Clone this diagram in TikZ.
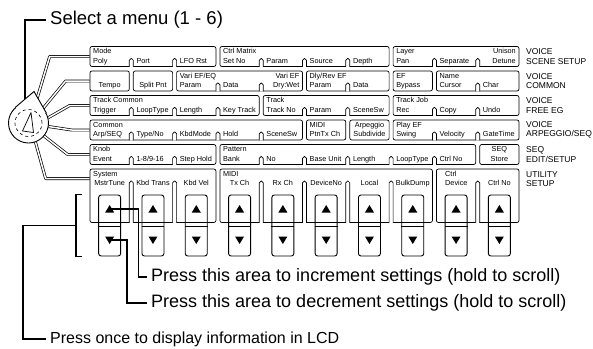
\documentclass[tikz,border=0pt]{standalone}
\usepackage{fontspec}
\setmainfont{Liberation Sans}
\usetikzlibrary{backgrounds}

\begin{document}
\begin{tikzpicture}[x=1pt, y=-1pt,
    box/.style={draw, rounded corners=2pt, line width=0.7pt, inner sep=0pt, minimum height=20pt},
    tallbox/.style={box, minimum height=53.5pt},
    notch/.style={draw, fill=white, rounded corners=1.8pt, line width=0.7pt},
    lbl/.style={font=\fontsize{7.3}{8}\selectfont, inner sep=0pt, anchor=west, text height=5pt, text depth=1.5pt},
    rlbl/.style={lbl, anchor=east},
    clbl/.style={lbl, anchor=center},
    side/.style={font=\fontsize{8.5}{9.5}\selectfont, align=left, anchor=west, inner sep=0pt},
    note/.style={font=\fontsize{18}{22}\selectfont, anchor=west, inner sep=4pt},
    link/.style={double, double distance=1.5pt, line width=0.7pt, line join=round},
    callout/.style={line width=1.5pt},
    key/.style={draw, fill=white, rounded corners=2.5pt, line width=0.9pt,
                minimum width=22pt, minimum height=61pt, inner sep=0pt}
  ]
  \useasboundingbox (0,0) rectangle (593,348);

  % menu rows
  \node[box, minimum width=125.9pt] (mode)    at (152.95,56.5) {};
  \node[box, minimum width=169.2pt] (matrix)  at (304.5,56.5)  {};
  \node[box, minimum width=125.9pt] (layer)   at (456.05,56.5) {};

  \node[box, minimum width=39.3pt]  (tempo)   at (109.65,81)   {};
  \node[box, minimum width=39.3pt]  (split)   at (152.95,81)   {};
  \node[box, minimum width=125.9pt] (varief)  at (239.55,81)   {};
  \node[box, minimum width=82.6pt]  (dlyrev)  at (347.8,81)    {};
  \node[box, minimum width=39.3pt]  (efbyp)   at (412.75,81)   {};
  \node[box, minimum width=82.6pt]  (name)    at (477.7,81)    {};

  \node[box, minimum width=169.2pt] (trkcom)  at (174.6,105.5) {};
  \node[box, minimum width=125.9pt] (track)   at (326.15,105.5) {};
  \node[box, minimum width=125.9pt] (trkjob)  at (456.05,105.5) {};

  \node[box, minimum width=212.5pt] (common)  at (196.25,130)  {};
  \node[box, minimum width=39.3pt]  (midi)    at (326.15,130)  {};
  \node[box, minimum width=39.3pt]  (arpeg)   at (369.45,130)  {};
  \node[box, minimum width=125.9pt] (playef)  at (456.05,130)  {};

  \node[box, minimum width=125.9pt] (knobev)  at (152.95,154.5) {};
  \node[box, minimum width=255.8pt] (pattern) at (347.8,154.5) {};
  \node[box, minimum width=39.3pt]  (seq)     at (499.35,154.5) {};

  \node[tallbox, minimum width=125.9pt] (system) at (152.95,195.75) {};
  \node[tallbox, minimum width=212.5pt] (midiu)  at (326.15,195.75) {};
  \node[tallbox, minimum width=82.6pt]  (ctrl)   at (477.7,195.75)  {};

  % notches between columns
  \foreach \j in {1,2,4,5,6,8,9}
    \draw[notch] ({88+43.3*\j-2},66.85) -- ++(0,-8.35) -- ++(4,0) -- ++(0,8.35);
  \foreach \j in {3,4,6,9}
    \draw[notch] ({88+43.3*\j-2},91.35) -- ++(0,-8.35) -- ++(4,0) -- ++(0,8.35);
  \foreach \j in {1,2,3,5,6,8,9}
    \draw[notch] ({88+43.3*\j-2},115.85) -- ++(0,-8.35) -- ++(4,0) -- ++(0,8.35);
  \foreach \j in {1,2,3,4,8,9}
    \draw[notch] ({88+43.3*\j-2},140.35) -- ++(0,-8.35) -- ++(4,0) -- ++(0,8.35);
  \foreach \j in {1,2,4,5,6,7,8}
    \draw[notch] ({88+43.3*\j-2},164.85) -- ++(0,-8.35) -- ++(4,0) -- ++(0,8.35);
  \foreach \j in {1,2,4,5,6,7,9}
    \draw[notch] ({88+43.3*\j-2},222.85) -- ++(0,-41.85) -- ++(4,0) -- ++(0,41.85);

  % row 1
  \node[lbl]  (modehd)   at (93,52)      {Mode};
  \node[lbl]  (poly)     at (93,61.5)    {Poly};
  \node[lbl]  (port)     at (136.3,61.5) {Port};
  \node[lbl]  (lforst)   at (179.6,61.5) {LFO Rst};
  \node[lbl]  (matrixhd) at (222.9,52)   {Ctrl Matrix};
  \node[lbl]  (setno)    at (222.9,61.5) {Set No};
  \node[lbl]  (param1)   at (266.2,61.5) {Param};
  \node[lbl]  (source)   at (309.5,61.5) {Source};
  \node[lbl]  (depth)    at (352.8,61.5) {Depth};
  \node[lbl]  (layerhd)  at (396.1,52)   {Layer};
  \node[lbl]  (pan)      at (396.1,61.5) {Pan};
  \node[lbl]  (separate) at (439.4,61.5) {Separate};
  \node[rlbl] (unison)   at (516,52)     {Unison};
  \node[rlbl] (detune)   at (516,61.5)   {Detune};

  % row 2
  \node[clbl] (tempotx)  at (109.65,86)  {Tempo};
  \node[clbl] (splitpnt) at (152.95,86)  {Split Pnt};
  \node[lbl]  (variefhd) at (179.6,76.5) {Vari EF/EQ};
  \node[lbl]  (param2)   at (179.6,86)   {Param};
  \node[lbl]  (data2)    at (222.9,86)   {Data};
  \node[rlbl] (varidw)   at (299.5,76.5) {Vari EF};
  \node[rlbl] (drywet)   at (299.5,86)   {Dry:Wet};
  \node[lbl]  (dlyrevhd) at (309.5,76.5) {Dly/Rev EF};
  \node[lbl]  (param3)   at (309.5,86)   {Param};
  \node[lbl]  (data3)    at (352.8,86)   {Data};
  \node[lbl]  (efhd)     at (396.1,76.5) {EF};
  \node[lbl]  (bypass)   at (396.1,86)   {Bypass};
  \node[lbl]  (namehd)   at (439.4,76.5) {Name};
  \node[lbl]  (cursor)   at (439.4,86)   {Cursor};
  \node[lbl]  (char)     at (482.7,86)   {Char};

  % row 3
  \node[lbl]  (trkcomhd) at (93,101)      {Track Common};
  \node[lbl]  (trigger)  at (93,110.5)    {Trigger};
  \node[lbl]  (looptyp1) at (136.3,110.5) {LoopType};
  \node[lbl]  (length1)  at (179.6,110.5) {Length};
  \node[lbl]  (keytrack) at (222.9,110.5) {Key Track};
  \node[lbl]  (trackhd)  at (266.2,101)   {Track};
  \node[lbl]  (trackno)  at (266.2,110.5) {Track No};
  \node[lbl]  (param4)   at (309.5,110.5) {Param};
  \node[lbl]  (scenesw1) at (352.8,110.5) {SceneSw};
  \node[lbl]  (trkjobhd) at (396.1,101)   {Track Job};
  \node[lbl]  (rec)      at (396.1,110.5) {Rec};
  \node[lbl]  (copy)     at (439.4,110.5) {Copy};
  \node[lbl]  (undo)     at (482.7,110.5) {Undo};

  % row 4
  \node[lbl]  (commonhd) at (93,125.5)    {Common};
  \node[lbl]  (arpseq)   at (93,135)      {Arp/SEQ};
  \node[lbl]  (typeno)   at (136.3,135)   {Type/No};
  \node[lbl]  (kbdmode)  at (179.6,135)   {KbdMode};
  \node[lbl]  (hold)     at (222.9,135)   {Hold};
  \node[lbl]  (scenesw2) at (266.2,135)   {SceneSw};
  \node[lbl]  (midihd)   at (309.5,125.5) {MIDI};
  \node[lbl]  (ptntx)    at (309.5,135)   {PtnTx Ch};
  \node[clbl] (arpeghd)  at (369.45,125.5) {Arpeggio};
  \node[clbl] (subdiv)   at (369.45,135)  {Subdivide};
  \node[lbl]  (playefhd) at (396.1,125.5) {Play EF};
  \node[lbl]  (swing)    at (396.1,135)   {Swing};
  \node[lbl]  (velocity) at (439.4,135)   {Velocity};
  \node[lbl]  (gatetime) at (482.7,135)   {GateTime};

  % row 5
  \node[lbl]  (knobhd)   at (93,150)      {Knob};
  \node[lbl]  (event)    at (93,159.5)    {Event};
  \node[lbl]  (part)     at (136.3,159.5) {1-8/9-16};
  \node[lbl]  (stephold) at (179.6,159.5) {Step Hold};
  \node[lbl]  (patthd)   at (222.9,150)   {Pattern};
  \node[lbl]  (bank)     at (222.9,159.5) {Bank};
  \node[lbl]  (no)       at (266.2,159.5) {No};
  \node[lbl]  (baseunit) at (309.5,159.5) {Base Unit};
  \node[lbl]  (length2)  at (352.8,159.5) {Length};
  \node[lbl]  (looptyp2) at (396.1,159.5) {LoopType};
  \node[lbl]  (ctrlno1)  at (439.4,159.5) {Ctrl No};
  \node[clbl] (seqhd)    at (499.35,150)  {SEQ};
  \node[clbl] (store)    at (499.35,159.5) {Store};

  % row 6
  \node[lbl]  (systemhd) at (93,174.5)     {System};
  \node[clbl] (mstrtune) at (109.65,184)   {MstrTune};
  \node[clbl] (kbdtrans) at (152.95,184)   {Kbd Trans};
  \node[clbl] (kbdvel)   at (196.25,184)   {Kbd Vel};
  \node[lbl]  (midiuhd)  at (222.9,174.5)  {MIDI};
  \node[clbl] (txch)     at (239.55,184)   {Tx Ch};
  \node[clbl] (rxch)     at (282.85,184)   {Rx Ch};
  \node[clbl] (deviceno) at (326.15,184)   {DeviceNo};
  \node[clbl] (local)    at (369.45,184)   {Local};
  \node[clbl] (bulkdump) at (412.75,184)   {BulkDump};
  \node[lbl]  (ctrlhd)   at (445,174.5)    {Ctrl};
  \node[lbl]  (device)   at (445,184)      {Device};
  \node[clbl] (ctrlno2)  at (499.35,184)   {Ctrl No};

  % menu names
  \node[side] (voicescene)  at (526,56.5)  {VOICE\\SCENE SETUP};
  \node[side] (voicecommon) at (526,81)    {VOICE\\COMMON};
  \node[side] (voicefree)   at (526,105.5) {VOICE\\FREE EG};
  \node[side] (voicearp)    at (526,130)   {VOICE\\ARPEGGIO/SEQ};
  \node[side] (seqedit)     at (526,154.5) {SEQ\\EDIT/SETUP};
  \node[side] (utility)     at (526,179)   {UTILITY\\SETUP};

  % knob
  \node[draw, circle, fill=white, line width=0.9pt, minimum size=40pt, inner sep=0pt] (knob) at (28.5,123) {};
  \coordinate (tip) at (34,91.5);
  \filldraw[line width=0.9pt, fill=white] (knob.131) -- (tip) -- (knob.29);
  \node[draw, dashed, circle, minimum size=27pt, inner sep=0pt, line width=0.6pt] (dial) at (knob) {};
  \draw[line width=0.7pt, line join=round] ([shift={(2.5,-10.5)}]knob.center)
    -- ([shift={(-6,8)}]knob.center) -- ([shift={(5,9.5)}]knob.center) -- cycle;

  \node[note, font=\fontsize{18.5}{22}\selectfont] (menu) at (46,20) {Select a menu (1 - 6)};

  \begin{scope}[on background layer]
    \draw[link] (knob.70)  -- ([xshift=-40pt]mode.west)   -- (mode.west);
    \draw[link] (knob.45)  -- ([xshift=-24pt]tempo.west)  -- (tempo.west);
    \draw[link] (knob.15)  -- ([xshift=-20pt]trkcom.west) -- (trkcom.west);
    \draw[link] (knob.-10) -- ([xshift=-18pt]common.west) -- (common.west);
    \draw[link] (knob.-40) -- ([xshift=-22pt]knobev.west) -- (knobev.west);
    \draw[link] (knob.-70) -- ([shift={(-44pt,-10pt)}]system.north west) -- ([yshift=-10pt]system.north west);
    \draw[callout] (menu.west) -| (knob.100);
  \end{scope}

  % data entry keys
  \foreach \i in {1,...,10} {
    \node[key] (btn\i) at ({88+43.3*\i-21.65},225.5) {};
    \draw[line width=0.8pt] ([yshift=3pt]btn\i.west) -- ([yshift=3pt]btn\i.east)
      ([yshift=-0.5pt]btn\i.west) -- ([yshift=-0.5pt]btn\i.east);
    \fill[shift={(btn\i.center)}] (0,-20.5) -- (4.5,-13) -- (-4.5,-13) -- cycle
      (0,18.5) -- (4.5,11) -- (-4.5,11) -- cycle;
  }

  % callouts
  \node[note] (inc)  at (147,277)   {Press this area to increment settings (hold to scroll)};
  \node[note] (dec)  at (147,303)   {Press this area to decrement settings (hold to scroll)};
  \node[note, font=\fontsize{16}{19}\selectfont] (once) at (46,339) {Press once to display information in LCD};
  \coordinate (up1) at ([yshift=16.5pt]btn1.center);
  \coordinate (dn1) at ([yshift=-14.5pt]btn1.center);
  \coordinate (brk) at ([xshift=-22pt]btn1.west);
  \draw[callout] (up1) -- ++(29,0) |- (inc.west);
  \draw[callout] (dn1) -- ++(17.5,0) |- (dec.west);
  \draw[callout] ([xshift=-16pt]btn1.north west) -- ([xshift=-22pt]btn1.north west)
    -- ([xshift=-22pt]btn1.south west) -- ([xshift=-16pt]btn1.south west);
  \draw[callout] (brk) -- ++(-53,0) |- (once.west);
\end{tikzpicture}
\end{document}
